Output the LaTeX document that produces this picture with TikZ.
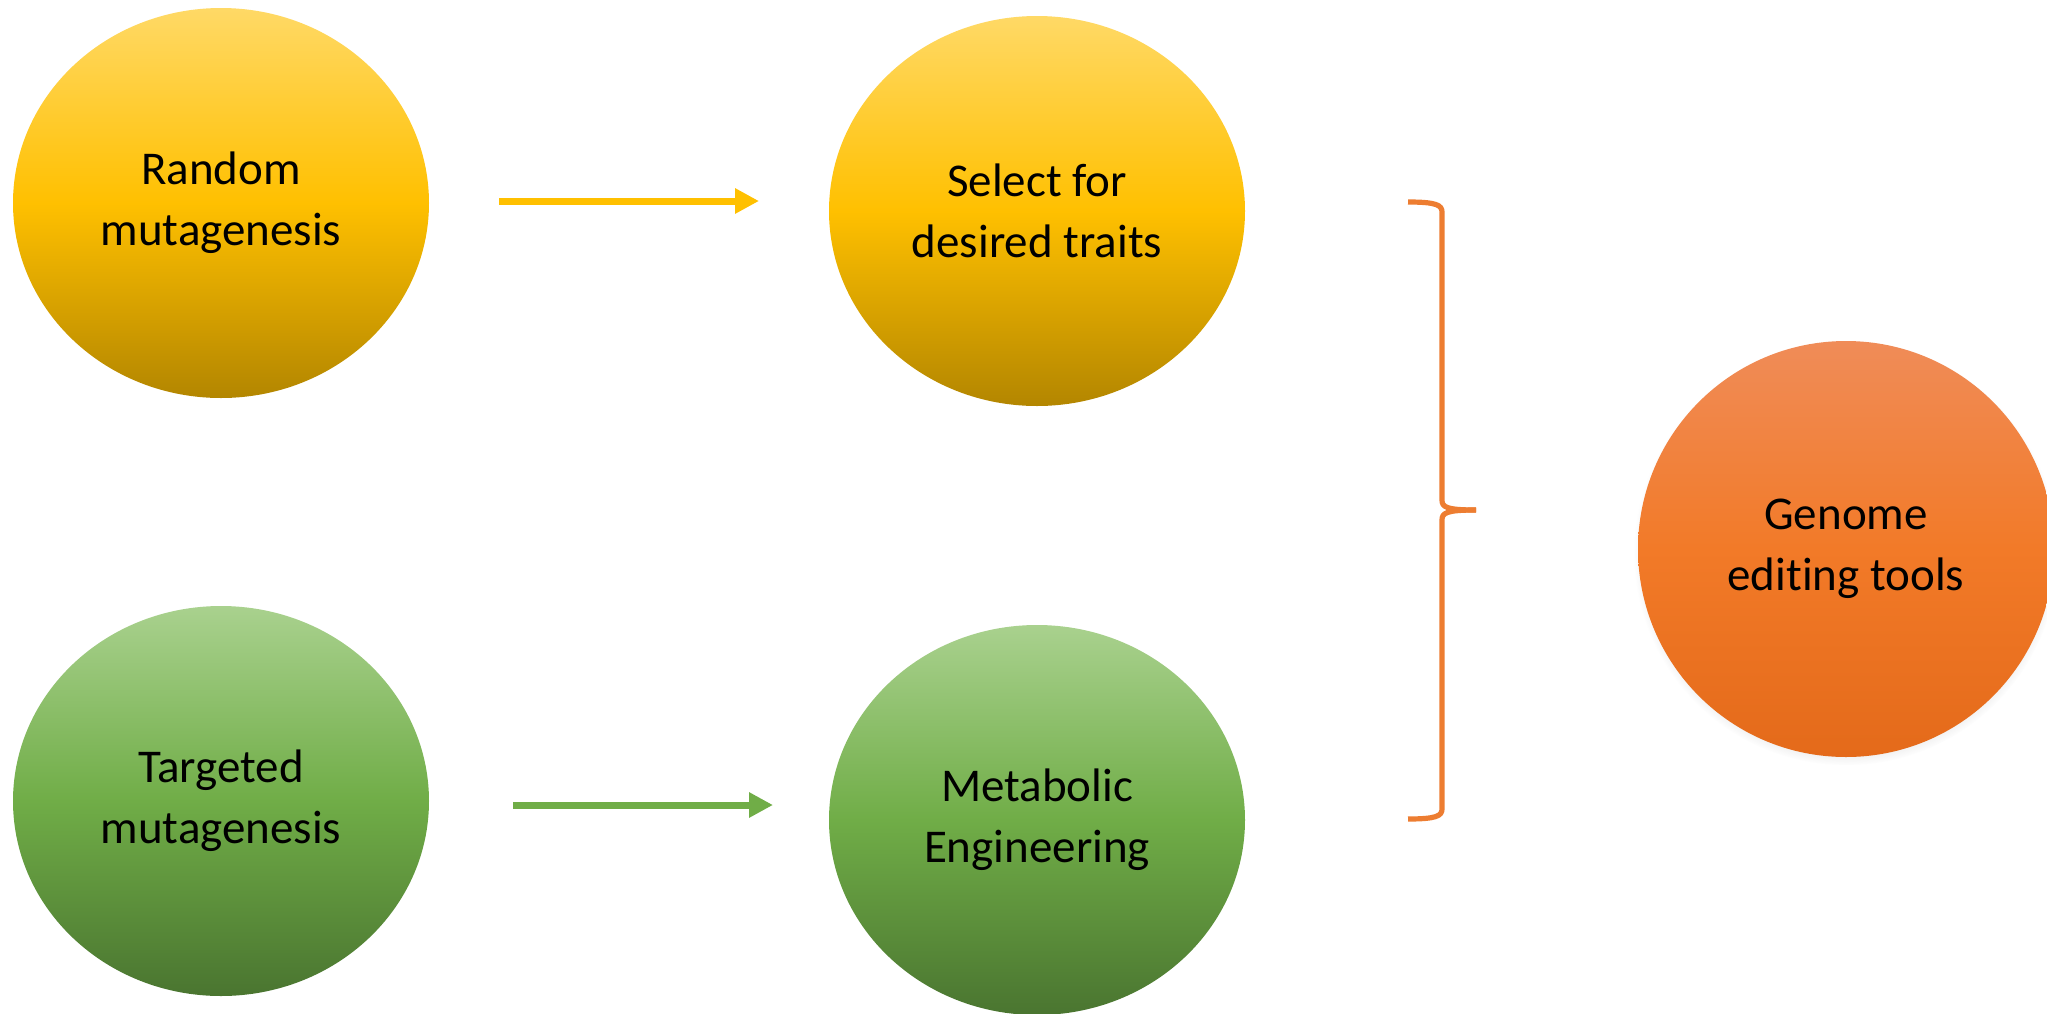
\documentclass[tikz,border=0pt]{standalone}
\usepackage{fontspec}
\setmainfont{Carlito}[Ligatures=NoCommon]
\usetikzlibrary{arrows.meta,shadows,shapes.geometric}
\definecolor{yTop}{HTML}{FFD966}
\definecolor{yMid}{HTML}{FFC000}
\definecolor{yBot}{HTML}{B38600}
\definecolor{gTop}{HTML}{A9D18E}
\definecolor{gMid}{HTML}{70AD47}
\definecolor{gBot}{HTML}{4A7530}
\definecolor{oTop}{HTML}{F08C58}
\definecolor{oMid}{HTML}{F27A28}
\definecolor{oBot}{HTML}{E46A1A}
\definecolor{braceC}{HTML}{ED7D31}
\begin{document}
\begin{tikzpicture}[x=0.5pt,y=-0.5pt,
  blob/.style={ellipse, minimum width=208pt, minimum height=195pt, inner sep=0pt,
    align=center, font=\fontsize{23.5pt}{30.5pt}\selectfont, text=black},
  yblob/.style={blob, top color=yTop, bottom color=yBot, middle color=yMid},
  gblob/.style={blob, top color=gTop, bottom color=gBot, middle color=gMid},
  oblob/.style={circle, minimum size=208pt, inner sep=0pt, align=center,
    font=\fontsize{23.5pt}{30.5pt}\selectfont, text=black,
    top color=oTop, bottom color=oBot, middle color=oMid,
    circular drop shadow={shadow xshift=0pt, shadow yshift=-2pt, opacity=0.35, shadow scale=1.02}},
  flow/.style={line width=3.5pt, -{Triangle[length=12pt,width=12pt]}},
  bracestyle/.style={draw=braceC, line width=2.6pt, line join=round}
]
\useasboundingbox (0,0) rectangle (2047,1013);
\node[yblob] (rand) at (221,203) {Random\\mutagenesis};
\node[yblob] (sel) at (1037,211) {Select for\\desired traits};
\node[gblob] (targ) at (221,801) {Targeted\\mutagenesis};
\node[gblob] (meta) at (1037,820) {Metabolic\\Engineering};
\node[oblob] (gen) at (1846,549) {Genome\\editing tools};

\coordinate (a1s) at (499,201);
\coordinate (a1e) at (759,201);
\coordinate (a2s) at (513,805);
\coordinate (a2e) at (773,805);
\draw[flow, draw=yMid, fill=yMid] (a1s) -- (a1e);
\draw[flow, draw=gMid, fill=gMid] (a2s) -- (a2e);

\coordinate (bt) at (1408,202);
\coordinate (bm) at (1476,510);
\coordinate (bb) at (1408,819);
\draw[bracestyle] (bt) .. controls (1436,202) and (1442,205) .. (1442,212)
  -- (1442,500) .. controls (1442,507) and (1446,510) .. (bm);
\draw[bracestyle] (bm) .. controls (1446,510) and (1442,513) .. (1442,520)
  -- (1442,809) .. controls (1442,816) and (1436,819) .. (bb);
\end{tikzpicture}
\end{document}
